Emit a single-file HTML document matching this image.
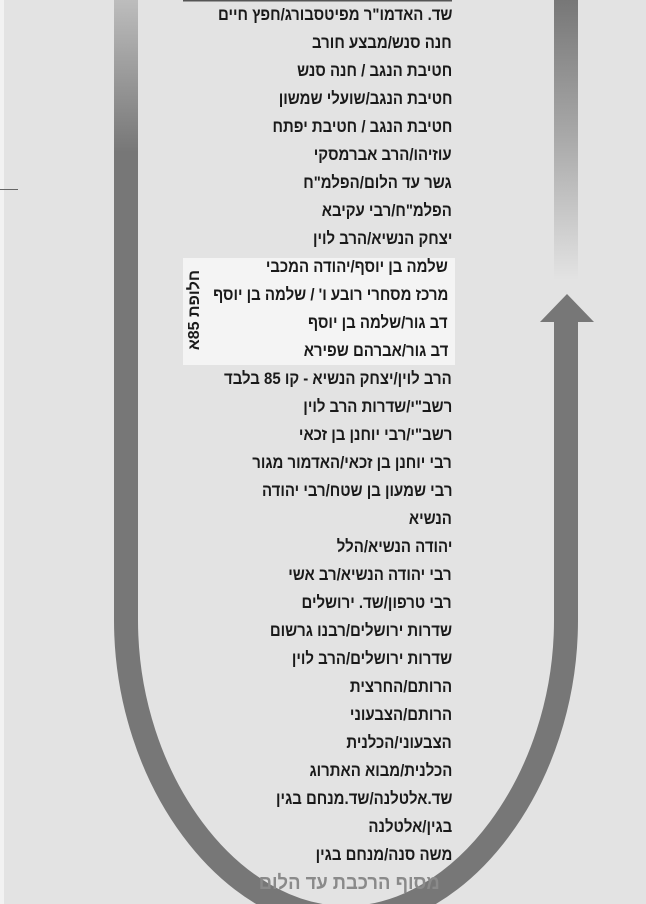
<!DOCTYPE html>
<html><head><meta charset="utf-8"><style>
html,body{margin:0;padding:0}
body{width:646px;height:904px;background:#e3e3e3;position:relative;overflow:hidden;font-family:"Liberation Sans","DejaVu Sans",sans-serif}
.l{position:absolute;right:194px;direction:rtl;white-space:nowrap;font-weight:bold;font-size:17px;line-height:20px;color:#1a1a1a;transform:scaleX(0.88);transform-origin:right center}
</style></head><body>
<div style="position:absolute;left:0;top:0;width:4px;height:904px;background:#f2f2f2"></div>
<div style="position:absolute;left:0;top:189px;width:18px;height:1px;background:#666"></div>
<svg width="646" height="904" style="position:absolute;left:0;top:0">
<defs>
<linearGradient id="gl" x1="0" y1="0" x2="0" y2="1"><stop offset="0" stop-color="#bdbdbd"/><stop offset="1" stop-color="#777"/></linearGradient>
<linearGradient id="gr" x1="0" y1="0" x2="0" y2="1"><stop offset="0" stop-color="#777"/><stop offset="0.5" stop-color="#aaa"/><stop offset="1" stop-color="#e3e3e3"/></linearGradient>
</defs>
<path d="M126 150 L126 620 C126 780 230 918 346 918 C462 918 566 780 566 620 L566 320" fill="none" stroke="#777" stroke-width="24"/>
<rect x="114" y="0" width="24" height="152" fill="url(#gl)"/>
<rect x="554" y="0" width="24" height="280" fill="url(#gr)"/>
<polygon points="540,322 594,322 567,294" fill="#777"/>
<line x1="183" y1="0.5" x2="452" y2="0.5" stroke="#555" stroke-width="2"/>
<rect x="183" y="258" width="272" height="107" fill="#f4f4f4"/>
</svg>
<div style="position:absolute;left:145px;top:300px;width:100px;height:20px;transform:rotate(-90deg);direction:rtl;text-align:center;white-space:nowrap;font-weight:bold;font-size:16px;line-height:20px;color:#1a1a1a">חלופת 85א</div>
<div class="l" style="top:5px">שד. האדמו"ר מפיטסבורג/חפץ חיים</div>
<div class="l" style="top:33px">חנה סנש/מבצע חורב</div>
<div class="l" style="top:61px">חטיבת הנגב / חנה סנש</div>
<div class="l" style="top:89px">חטיבת הנגב/שועלי שמשון</div>
<div class="l" style="top:117px">חטיבת הנגב / חטיבת יפתח</div>
<div class="l" style="top:145px">עוזיהו/הרב אברמסקי</div>
<div class="l" style="top:173px">גשר עד הלום/הפלמ"ח</div>
<div class="l" style="top:201px">הפלמ"ח/רבי עקיבא</div>
<div class="l" style="top:229px">יצחק הנשיא/הרב לוין</div>
<div class="l" style="top:257px;right:198px">שלמה בן יוסף/יהודה המכבי</div>
<div class="l" style="top:285px;right:198px">מרכז מסחרי רובע ו' / שלמה בן יוסף</div>
<div class="l" style="top:313px;right:198px">דב גור/שלמה בן יוסף</div>
<div class="l" style="top:341px;right:198px">דב גור/אברהם שפירא</div>
<div class="l" style="top:369px">הרב לוין/יצחק הנשיא - קו 85 בלבד</div>
<div class="l" style="top:397px">רשב"י/שדרות הרב לוין</div>
<div class="l" style="top:425px">רשב"י/רבי יוחנן בן זכאי</div>
<div class="l" style="top:453px">רבי יוחנן בן זכאי/האדמור מגור</div>
<div class="l" style="top:481px">רבי שמעון בן שטח/רבי יהודה</div>
<div class="l" style="top:509px">הנשיא</div>
<div class="l" style="top:537px">יהודה הנשיא/הלל</div>
<div class="l" style="top:565px">רבי יהודה הנשיא/רב אשי</div>
<div class="l" style="top:593px">רבי טרפון/שד. ירושלים</div>
<div class="l" style="top:621px">שדרות ירושלים/רבנו גרשום</div>
<div class="l" style="top:649px">שדרות ירושלים/הרב לוין</div>
<div class="l" style="top:677px">הרותם/החרצית</div>
<div class="l" style="top:705px">הרותם/הצבעוני</div>
<div class="l" style="top:733px">הצבעוני/הכלנית</div>
<div class="l" style="top:761px">הכלנית/מבוא האתרוג</div>
<div class="l" style="top:789px">שד.אלטלנה/שד.מנחם בגין</div>
<div class="l" style="top:817px">בגין/אלטלנה</div>
<div class="l" style="top:845px">משה סנה/מנחם בגין</div>
<div class="l" style="top:872px;right:206px;font-size:20px;line-height:22px;color:#8a8a8a;transform:scaleX(0.92)">מסוף הרכבת עד הלום</div>
</body></html>
